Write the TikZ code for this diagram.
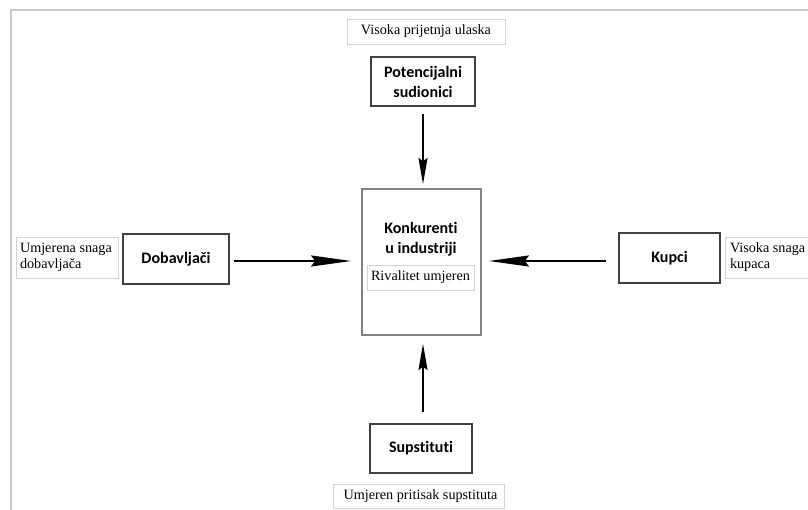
\documentclass[tikz,border=0pt]{standalone}
\usepackage{fontspec}
\setmainfont{Liberation Serif}
\newfontfamily\calibri[Ligatures=NoCommon]{Carlito}
\usepackage{tikz}
\usetikzlibrary{arrows.meta}

\definecolor{framegray}{RGB}{200,200,200}
\definecolor{notegray}{RGB}{210,210,210}
\definecolor{boxgray}{RGB}{64,64,64}
\definecolor{centergray}{RGB}{130,130,130}

\begin{document}
\begin{tikzpicture}[x=1pt,y=-1pt,
    force/.style={draw=boxgray, line width=1.1pt, align=center, inner sep=0pt,
        font=\calibri\bfseries\fontsize{16}{20}\selectfont},
    note/.style={draw=notegray, line width=0.8pt, inner sep=0pt,
        font=\fontsize{14.2}{16}\selectfont},
    harr/.style={line width=2pt, -{Stealth[length=40pt,width=11pt,inset=4pt]}},
    varr/.style={line width=2pt, -{Stealth[length=26pt,width=9pt,inset=3pt]}}]

\useasboundingbox (0,0) rectangle (808,510);
\fill[white] (0,0) rectangle (808,510);
\draw[framegray, line width=2.5pt] (11,512) -- (11,10) -- (810,10);

\coordinate (P) at (423,81.5);
\coordinate (K) at (421.5,262);
\coordinate (D) at (176,259);
\coordinate (B) at (669.5,258);
\coordinate (S) at (421,448.5);

\node[force, minimum width=104pt, minimum height=49pt] (potencijal) at (P) {Potencijalni\\sudionici};
\node[force, minimum width=106pt, minimum height=50pt] (dobavljaci) at (D) {Dobavljači};
\node[force, minimum width=101pt, minimum height=50pt] (kupci) at (B) {Kupci};
\node[force, minimum width=102pt, minimum height=49pt] (supstituti) at (S) {Supstituti};

\node[draw=centergray, line width=1.8pt, minimum width=119pt, minimum height=146pt] (konkurenti) at (K) {};
\node[force, draw=none] (konkurentitxt) at (421,239) {Konkurenti\\u industriji};
\node[note, minimum width=107pt, minimum height=25pt] (rivalitet) at (420.5,277.5) {Rivalitet umjeren};

\node[note, minimum width=158pt, minimum height=25pt] (prijetnja) at (426,31.5) {Visoka prijetnja ulaska};
\node[note, minimum width=171pt, minimum height=24pt] (pritisak) at (418.5,496) {\hspace{4pt}Umjeren pritisak supstituta};
\node[note, minimum width=102pt, minimum height=41pt, align=flush left, inner xsep=4pt, text width=94pt] (umjerena) at (67,257.5) {Umjerena snaga\\dobavljača};
\node[note, minimum width=90pt, minimum height=41pt, align=flush left, inner xsep=5pt, text width=80pt] (visoka) at (770,257.5) {Visoka snaga\\kupaca};

\draw[varr, shorten <=7pt, shorten >=4pt] (potencijal.south) -- (potencijal.south |- konkurenti.north);
\draw[harr, shorten <=4pt, shorten >=10pt] ([yshift=-2pt]dobavljaci.east) -- ([yshift=-2pt]dobavljaci.east -| konkurenti.west);
\draw[harr, shorten <=12pt, shorten >=7pt] ([yshift=-3pt]kupci.west) -- ([yshift=-3pt]kupci.west -| konkurenti.east);
\draw[varr, shorten <=11pt, shorten >=8pt] ([xshift=2pt]supstituti.north) -- ([xshift=2pt]supstituti.north |- konkurenti.south);

\end{tikzpicture}
\end{document}
